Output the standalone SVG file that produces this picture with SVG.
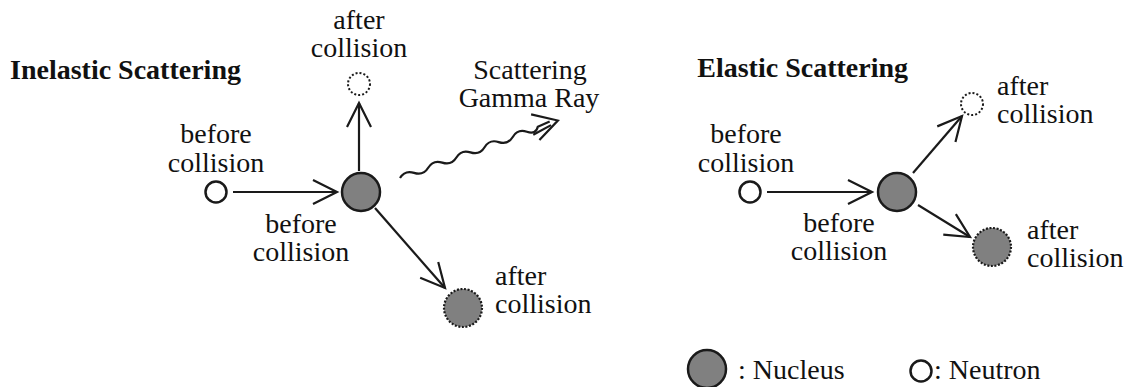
<svg xmlns="http://www.w3.org/2000/svg" width="1134" height="387" viewBox="0 0 1134 387">
<style>
text{font-family:"Liberation Serif","Times New Roman",serif;font-size:28px;fill:#111}
.title{font-weight:bold}
.mid{text-anchor:middle}
.end{text-anchor:end}
.nuc{fill:#808080;stroke:#1a1a1a;stroke-width:2.5}
.nucd{fill:#808080;stroke:#1a1a1a;stroke-width:2.2;stroke-dasharray:2 1.6}
.neu{fill:#fff;stroke:#1a1a1a;stroke-width:2.5}
.neud{fill:#fff;stroke:#1a1a1a;stroke-width:2;stroke-dasharray:2 2}
.ln{fill:none;stroke:#1a1a1a;stroke-width:2.2}
</style>
<defs>
<marker id="ah" markerUnits="userSpaceOnUse" viewBox="-28 -16 32 32" markerWidth="32" markerHeight="32" refX="0" refY="0" orient="auto">
<path d="M-24,-12 L0,0 L-24,12" fill="none" stroke="#1a1a1a" stroke-width="2.2"/>
</marker>
</defs>

<text class="title" x="10" y="79">Inelastic Scattering</text>
<text class="title end" x="908" y="77">Elastic Scattering</text>

<g id="connectors">
<line class="ln" x1="233" y1="192" x2="337" y2="192" marker-end="url(#ah)"/>
<line class="ln" x1="359" y1="171" x2="359" y2="103" marker-end="url(#ah)"/>
<line class="ln" x1="375" y1="208" x2="445" y2="288" marker-end="url(#ah)"/>
<g id="gamma" transform="translate(400,178) rotate(-20)">
<path class="ln" d="M0,0 q7.5,-6 15,0 t15,0 t15,0 t15,0 t15,0 t15,0 t15,0 t15,0 t15,0 t12,-1 L160,-2"/>
<path class="ln" d="M140,5 L160,2"/>
<path class="ln" d="M145,-15 L168,0 L144,12"/>
</g>
<line class="ln" x1="767" y1="192" x2="872" y2="192" marker-end="url(#ah)"/>
<line class="ln" x1="913" y1="173" x2="962" y2="116" marker-end="url(#ah)"/>
<line class="ln" x1="918" y1="205" x2="970" y2="237" marker-end="url(#ah)"/>
</g>

<g id="inelastic-neutron-before">
<circle class="neu" cx="216" cy="192" r="10.5"/>
<text class="mid" x="216" y="143">before</text>
<text class="mid" x="216" y="172">collision</text>
</g>
<g id="inelastic-nucleus-before">
<circle class="nuc" cx="361" cy="192" r="19"/>
<text class="mid" x="301" y="233">before</text>
<text class="mid" x="301" y="261">collision</text>
</g>
<g id="inelastic-neutron-after">
<circle class="neud" cx="359" cy="84" r="11"/>
<text class="mid" x="359" y="29">after</text>
<text class="mid" x="359" y="57">collision</text>
</g>
<g id="inelastic-gamma-label">
<text class="mid" x="530" y="79">Scattering</text>
<text class="mid" x="529" y="107">Gamma Ray</text>
</g>
<g id="inelastic-nucleus-after">
<circle class="nucd" cx="463" cy="308" r="19"/>
<text x="495" y="285">after</text>
<text x="495" y="313">collision</text>
</g>

<g id="elastic-neutron-before">
<circle class="neu" cx="750" cy="192" r="10.5"/>
<text class="mid" x="746" y="143">before</text>
<text class="mid" x="746" y="172">collision</text>
</g>
<g id="elastic-nucleus-before">
<circle class="nuc" cx="897" cy="192" r="19"/>
<text class="mid" x="839" y="232">before</text>
<text class="mid" x="839" y="260">collision</text>
</g>
<g id="elastic-neutron-after">
<circle class="neud" cx="972" cy="104" r="11"/>
<text x="997" y="95">after</text>
<text x="997" y="123">collision</text>
</g>
<g id="elastic-nucleus-after">
<circle class="nucd" cx="992" cy="247" r="19"/>
<text x="1027" y="239">after</text>
<text x="1027" y="267">collision</text>
</g>

<g id="legend-nucleus">
<circle class="nuc" cx="707" cy="369" r="19"/>
<text x="738" y="379">: Nucleus</text>
</g>
<g id="legend-neutron">
<circle class="neu" cx="921" cy="371" r="10.5"/>
<text x="934" y="379">: Neutron</text>
</g>
</svg>
